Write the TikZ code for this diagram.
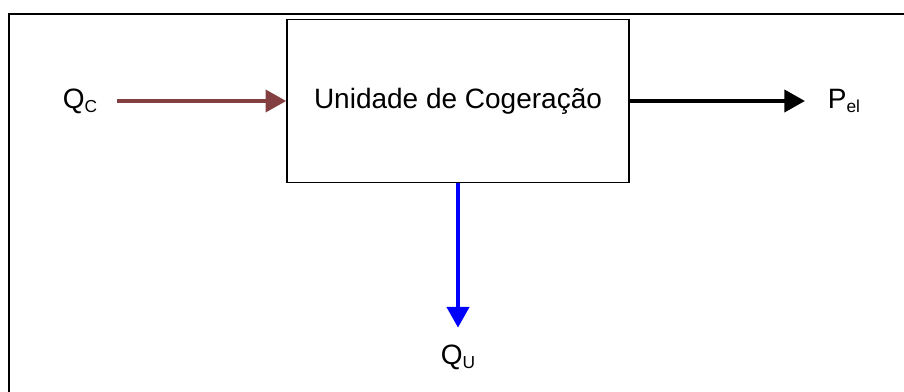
\documentclass[tikz,border=0pt]{standalone}
\usepackage{fontspec}
\setmainfont{Liberation Sans}
\usetikzlibrary{arrows.meta}
\definecolor{heatin}{RGB}{132,64,64}
\newcommand{\lowidx}[1]{\raisebox{-3.5pt}{\fontsize{13}{13}\selectfont #1}}
\tikzset{
    unitbox/.style={draw, line width=1.2pt, minimum width=256.5pt, minimum height=122pt},
    flow/.style={line width=3pt, -{Triangle[length=15.5pt,width=16.5pt]}},
    lbl/.style={inner sep=0pt}
}
\begin{document}
\begin{tikzpicture}[x=0.75pt, y=-0.75pt, font=\fontsize{21}{25}\selectfont]
    \useasboundingbox (0,0) rectangle (904,392);
    \draw[line width=1.6pt]  (9,392) -- (9,14) -- (904,14);
    \node[unitbox]   (unit) at (458,101) {Unidade de Cogeração};
    \node[lbl]       (qc)   at (80,101)  {Q\lowidx{C}};
    \node[lbl]       (pel)  at (844,101) {P\lowidx{el}};
    \node[lbl]       (qu)   at (458,357) {Q\lowidx{U}};
    \draw[flow, heatin, shorten <=15pt] (qc) -- (unit);
    \draw[flow, black, shorten >=17pt]  (unit) -- (pel);
    \draw[flow, blue, shorten >=12.5pt] (unit) -- (qu);
\end{tikzpicture}
\end{document}
